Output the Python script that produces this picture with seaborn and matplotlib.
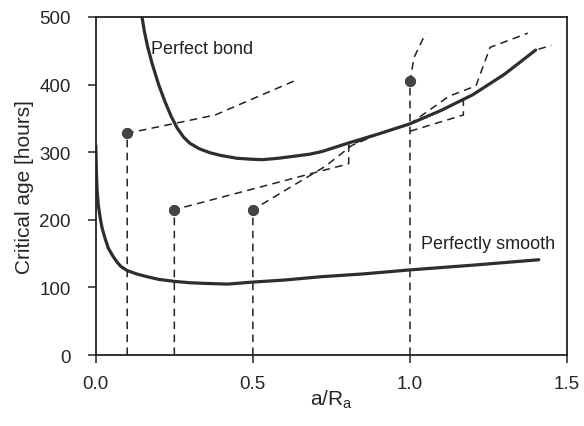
import numpy as np
import matplotlib
matplotlib.use("Agg")
import matplotlib.pyplot as plt
import seaborn as sns
import pandas as pd

# solid curves
bond_x = [0.147, 0.155, 0.165, 0.18, 0.2, 0.22, 0.24, 0.26, 0.28, 0.3, 0.33, 0.365, 0.4, 0.45,
          0.5, 0.53, 0.58, 0.63, 0.68, 0.72, 0.8, 0.9, 1.0, 1.1, 1.2, 1.3, 1.4]
bond_y = [500, 478, 456, 430, 400, 375, 353, 335, 322, 313, 305, 299, 295, 291,
          289.5, 289, 291, 294, 297, 301, 313, 327, 342, 362, 385, 415, 451]
smooth_x = [0.0, 0.002, 0.004, 0.008, 0.014, 0.02, 0.03, 0.04, 0.055, 0.067, 0.08, 0.1, 0.13,
            0.163, 0.2, 0.25, 0.3, 0.35, 0.42, 0.5, 0.6, 0.72, 0.85, 1.0, 1.2, 1.41]
smooth_y = [310, 270, 245, 222, 203, 188, 172, 158, 146, 138, 131, 125, 120,
            116, 112, 109, 107, 106, 105, 108, 111, 116, 120, 126, 133, 141]

# dashed paths
path_a_x = [0.1, 0.1, 0.38, 0.63]
path_a_y = [0, 328, 355, 405]
path_b_x = [0.25, 0.25, 0.805, 0.805, 0.9, 1.0, 1.1, 1.2, 1.3, 1.4, 1.45]
path_b_y = [0, 215, 283, 310, 327, 342, 362, 385, 415, 451, 458]
path_c_x = [0.5, 0.5, 0.73, 0.815, 0.9, 1.0, 1.125, 1.21, 1.255, 1.375]
path_c_y = [0, 215, 279, 310, 327, 342, 383, 398, 455, 476]
path_d_x = [1.0, 1.0, 1.013, 1.05]
path_d_y = [0, 405, 440, 476]
branch_d_x = [1.0, 1.17, 1.17]
branch_d_y = [331, 355, 380]

# start points
pts_x = [0.1, 0.25, 0.5, 1.0]
pts_y = [328, 215, 215, 405]

sns.set_theme(style="ticks")
plt.rcParams['font.family'] = ['Liberation Sans', 'DejaVu Sans']
plt.rcParams['mathtext.fontset'] = 'custom'
plt.rcParams['mathtext.rm'] = 'Liberation Sans'
plt.rcParams['mathtext.it'] = 'Liberation Sans'

fig, ax = plt.subplots(figsize=(5.84, 4.27), dpi=100)
fig.subplots_adjust(left=0.164, right=0.971, bottom=0.166, top=0.958)

dark = '#2e2e2e'
for px, py in [(path_a_x, path_a_y), (path_b_x, path_b_y), (path_c_x, path_c_y),
               (path_d_x, path_d_y), (branch_d_x, branch_d_y)]:
    df = pd.DataFrame({'x': px, 'y': py})
    sns.lineplot(data=df, x='x', y='y', sort=False, estimator=None, ax=ax,
                 color='#222222', linewidth=1.1, dashes=False,
                 linestyle=(0, (5, 3.5)))

sns.lineplot(x=bond_x, y=bond_y, sort=False, estimator=None, ax=ax, color=dark, linewidth=2.3)
sns.lineplot(x=smooth_x, y=smooth_y, sort=False, estimator=None, ax=ax, color=dark, linewidth=2.3)
sns.scatterplot(x=pts_x, y=pts_y, ax=ax, color='#444444', s=55, edgecolor='#333333', zorder=5)

ax.text(0.177, 454, 'Perfect bond', fontsize=13, va='center', ha='left', color='#222222')
ax.text(1.035, 165, 'Perfectly smooth', fontsize=13, va='center', ha='left', color='#222222')

ax.set_xlim(0, 1.5)
ax.set_ylim(0, 500)
ax.set_xticks([0.0, 0.5, 1.0, 1.5])
ax.set_xticklabels(['0.0', '0.5', '1.0', '1.5'])
ax.set_yticks([0, 100, 200, 300, 400, 500])
ax.set_xlabel(r'a/R$_{\mathrm{a}}$', fontsize=15, labelpad=-3)
ax.set_ylabel('Critical age [hours]', fontsize=15, labelpad=4)
ax.tick_params(axis='both', labelsize=13.5, direction='out', length=6, width=1.1, color='#222222')
ax.tick_params(axis='y', pad=12)
ax.tick_params(axis='x', pad=8)
for s in ax.spines.values():
    s.set_visible(True)
    s.set_linewidth(1.3)
    s.set_color('#222222')

fig.savefig('out.png', dpi=100)
